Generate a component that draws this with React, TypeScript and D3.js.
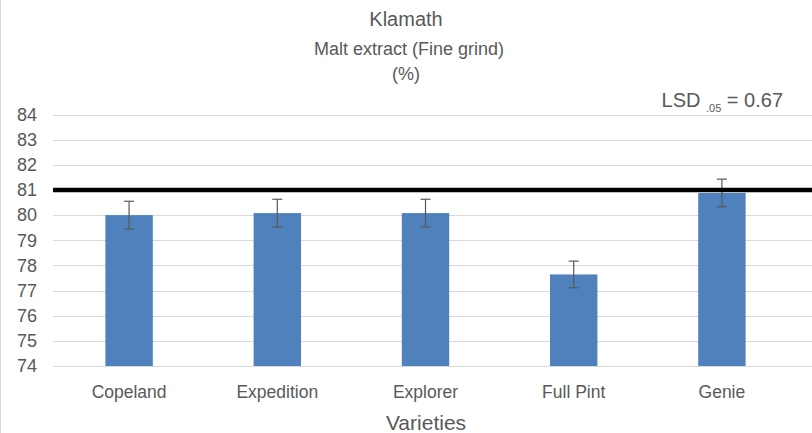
import React from "react";
import * as d3 from "d3";

const categories = ["Copeland", "Expedition", "Explorer", "Full Pint", "Genie"];
const values = [80.0, 80.08, 80.08, 77.64, 80.88];
const errors = [0.55, 0.55, 0.55, 0.53, 0.55];
const yTicks = [74, 75, 76, 77, 78, 79, 80, 81, 82, 83, 84];
const refLine = 81;
const titleLines = ["Klamath", "Malt extract (Fine grind)", "(%)"];

const W = 812;
const H = 433;
const FONT = "'Liberation Sans Narrow', 'Liberation Sans', Roboto, sans-serif";
const GRAY = "#595959";

export default function App() {
  const x = d3.scaleBand<string>().domain(categories).range([55, 796]).paddingInner(0.68).paddingOuter(0.34);
  const y = d3.scaleLinear().domain([74, 84]).range([366, 114.5]);
  const gridX0 = 53;
  const gridX1 = 812;
  return (
    <svg width={W} height={H} style={{ position: "absolute", left: 0, top: 0, background: "#fff" }}>
      <line x1={0.5} x2={0.5} y1={0} y2={H} stroke="#d9d9d9" />
      <text x={406} y={26} textAnchor="middle" fontFamily={FONT} fontSize={20} fill={GRAY}>{titleLines[0]}</text>
      <text x={409} y={55} textAnchor="middle" fontFamily={FONT} fontSize={18} fill={GRAY}>{titleLines[1]}</text>
      <text x={406} y={80} textAnchor="middle" fontFamily={FONT} fontSize={18} fill={GRAY}>{titleLines[2]}</text>
      <text x={783} y={107} textAnchor="end" fontFamily={FONT} fontSize={20} fill={GRAY}>
        LSD <tspan fontSize={11} dy={5}>.05</tspan><tspan dy={-5}> = 0.67</tspan>
      </text>
      {yTicks.map((t) => (
        <g key={t}>
          <line x1={gridX0} x2={gridX1} y1={Math.round(y(t)) + 0.5} y2={Math.round(y(t)) + 0.5} stroke="#d9d9d9" strokeWidth={1} />
          <text x={37} y={y(t)} dy="0.35em" textAnchor="end" fontFamily={FONT} fontSize={18} fill={GRAY}>{t}</text>
        </g>
      ))}
      {categories.map((c, i) => {
        const bx = x(c)!;
        const bw = x.bandwidth();
        const cx = bx + bw / 2;
        return (
          <g key={c}>
            <rect x={bx} y={y(values[i])} width={bw} height={y(74) - y(values[i])} fill="#4f81bd" />
            <line x1={cx} x2={cx} y1={y(values[i] + errors[i])} y2={y(values[i] - errors[i])} stroke={GRAY} strokeWidth={1.2} />
            <line x1={cx - 5} x2={cx + 5} y1={y(values[i] + errors[i])} y2={y(values[i] + errors[i])} stroke={GRAY} strokeWidth={1.2} />
            <line x1={cx - 5} x2={cx + 5} y1={y(values[i] - errors[i])} y2={y(values[i] - errors[i])} stroke={GRAY} strokeWidth={1.2} />
            <text x={cx} y={398} textAnchor="middle" fontFamily={FONT} fontSize={17.5} fill={GRAY}>{c}</text>
          </g>
        );
      })}
      <line x1={gridX0} x2={gridX1} y1={y(refLine)} y2={y(refLine)} stroke="#000" strokeWidth={4.5} />
      <text x={426} y={430} textAnchor="middle" fontFamily={FONT} fontSize={21} fill={GRAY}>Varieties</text>
    </svg>
  );
}
